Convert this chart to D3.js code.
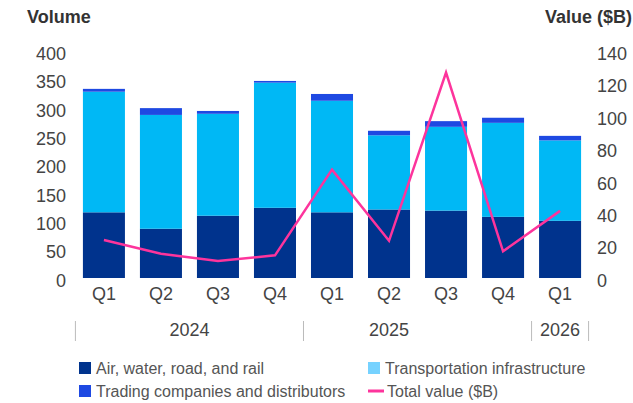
<!DOCTYPE html>
<html>
<head>
<meta charset="utf-8">
<script src="https://cdn.jsdelivr.net/npm/d3@7"></script>
<style>
  body { margin: 0; background: #fff; }
  text { font-family: 'Liberation Sans', Arial, sans-serif; }
</style>
</head>
<body>
<script>
var width = 633
var height = 403

// data
var quarters = ['Q1', 'Q2', 'Q3', 'Q4', 'Q1', 'Q2', 'Q3', 'Q4', 'Q1']
var years = ['2024', '2024', '2024', '2024', '2025', '2025', '2025', '2025', '2026']
var airWaterRoadRail = [116, 87, 110, 124, 116, 121, 119, 108, 101]
var transportInfra = [213, 201, 180, 221, 197, 131, 148, 166, 142]
var tradingDistributors = [5, 12, 5, 3, 12, 8, 10, 9, 8]
var totalValue = [23.5, 15, 10.5, 14, 67, 23, 127, 16.5, 41.5]
var volumeTicks = [0, 50, 100, 150, 200, 250, 300, 350, 400]
var valueTicks = [0, 20, 40, 60, 80, 100, 120, 140]

var seriesKeys = ['air', 'infra', 'trading']
var seriesNames = {
  air: 'Air, water, road, and rail',
  infra: 'Transportation infrastructure',
  trading: 'Trading companies and distributors',
  total: 'Total value ($B)'
}
var colours = { air: '#00338d', infra: '#00b8f5', trading: '#1e49e2', total: '#fd349c' }
var legendColours = { air: '#00338d', infra: '#76d2ff', trading: '#1e49e2', total: '#fd349c' }

var rows = quarters.map(function (q, i) {
  return {
    id: i,
    quarter: q,
    year: years[i],
    air: airWaterRoadRail[i],
    infra: transportInfra[i],
    trading: tradingDistributors[i],
    total: totalValue[i]
  }
})

var svg = d3.select('body').append('svg')
  .attr('width', width)
  .attr('height', height)

var x = d3.scaleBand()
  .domain(rows.map(function (d) { return d.id }))
  .range([75.5, 588.5])
  .paddingInner(0.263)
  .paddingOuter(0.13)

var yLeft = d3.scaleLinear().domain([0, 400]).range([278, 51.5])
var yRight = d3.scaleLinear().domain([0, 140]).range([278, 51.5])

// titles
svg.append('text')
  .attr('x', 27).attr('y', 23)
  .attr('font-size', 18).attr('font-weight', 'bold').attr('fill', '#333')
  .text('Volume')
svg.append('text')
  .attr('x', 632).attr('y', 23)
  .attr('text-anchor', 'end')
  .attr('font-size', 18).attr('font-weight', 'bold').attr('fill', '#333')
  .text('Value ($B)')

// left axis
var leftAxis = svg.append('g')
  .attr('transform', 'translate(66,0)')
  .call(d3.axisLeft(yLeft).tickValues(volumeTicks).tickSize(0).tickPadding(0))
leftAxis.select('.domain').remove()
leftAxis.selectAll('text')
  .attr('font-size', 18).attr('fill', '#444').attr('dy', '0.45em')
  .style('font-family', "'Liberation Sans', Arial, sans-serif")

// right axis
var rightAxis = svg.append('g')
  .attr('transform', 'translate(597,0)')
  .call(d3.axisRight(yRight).tickValues(valueTicks).tickSize(0).tickPadding(0))
rightAxis.select('.domain').remove()
rightAxis.selectAll('text')
  .attr('font-size', 18).attr('fill', '#444').attr('dy', '0.45em')
  .style('font-family', "'Liberation Sans', Arial, sans-serif")

// stacked bars
var stacked = d3.stack().keys(seriesKeys)(rows)
svg.append('g').selectAll('g')
  .data(stacked)
  .enter().append('g')
  .attr('fill', function (d) { return colours[d.key] })
  .selectAll('rect')
  .data(function (d) { return d })
  .enter().append('rect')
  .attr('x', function (d) { return x(d.data.id) })
  .attr('width', x.bandwidth())
  .attr('y', function (d) { return yLeft(d[1]) })
  .attr('height', function (d) { return yLeft(d[0]) - yLeft(d[1]) })

// total value line
var line = d3.line()
  .x(function (d) { return x(d.id) + x.bandwidth() / 2 })
  .y(function (d) { return yRight(d.total) })
svg.append('path')
  .datum(rows)
  .attr('d', line)
  .attr('fill', 'none')
  .attr('stroke', colours.total)
  .attr('stroke-width', 2.5)
  .attr('stroke-linejoin', 'miter')

// quarter labels
var bottomAxis = svg.append('g')
  .attr('transform', 'translate(0,286)')
  .call(d3.axisBottom(x).tickSize(0).tickPadding(0)
    .tickFormat(function (id) { return rows[id].quarter }))
bottomAxis.select('.domain').remove()
bottomAxis.selectAll('text')
  .attr('font-size', 18).attr('fill', '#444').attr('dy', '0.75em')
  .style('font-family', "'Liberation Sans', Arial, sans-serif")

// year groups
var yearGroups = d3.groups(rows, function (d) { return d.year })
var half = x.step() * x.paddingInner() / 2
var yearG = svg.append('g')
yearGroups.forEach(function (g, gi) {
  var first = g[1][0].id
  var last = g[1][g[1].length - 1].id
  var x0 = x(first) - half
  var x1 = x(last) + x.bandwidth() + half
  yearG.append('line')
    .attr('x1', x0).attr('x2', x0).attr('y1', 321).attr('y2', 341)
    .attr('stroke', '#bbb').attr('stroke-width', 1)
  if (gi === yearGroups.length - 1) {
    yearG.append('line')
      .attr('x1', x1).attr('x2', x1).attr('y1', 321).attr('y2', 341)
      .attr('stroke', '#bbb').attr('stroke-width', 1)
  }
  // 2025 label sits over its second quarter in the original
  var cx = g[1].length === 4 && gi === 1
    ? x(g[1][1].id) + x.bandwidth() / 2
    : (x0 + x1) / 2
  yearG.append('text')
    .attr('x', cx).attr('y', 336)
    .attr('text-anchor', 'middle')
    .attr('font-size', 18).attr('fill', '#444')
    .text(g[0])
})

// legend
var legendItems = [
  { key: 'air', x: 79, y: 368 },
  { key: 'infra', x: 368, y: 368 },
  { key: 'trading', x: 79, y: 391 },
  { key: 'total', x: 368, y: 391 }
]
var legend = svg.append('g').selectAll('g')
  .data(legendItems)
  .enter().append('g')
  .attr('transform', function (d) { return 'translate(' + d.x + ',' + d.y + ')' })
legend.each(function (d) {
  var g = d3.select(this)
  if (d.key === 'total') {
    g.append('rect').attr('x', 0).attr('y', -1.5).attr('width', 16).attr('height', 3)
      .attr('fill', legendColours[d.key])
  } else {
    g.append('rect').attr('x', 0).attr('y', -6).attr('width', 12).attr('height', 12)
      .attr('fill', legendColours[d.key])
  }
  g.append('text')
    .attr('x', d.key === 'total' ? 19 : 17).attr('y', 0).attr('dy', '0.36em')
    .attr('font-size', 16).attr('fill', '#555')
    .text(seriesNames[d.key])
})
</script>
</body>
</html>
